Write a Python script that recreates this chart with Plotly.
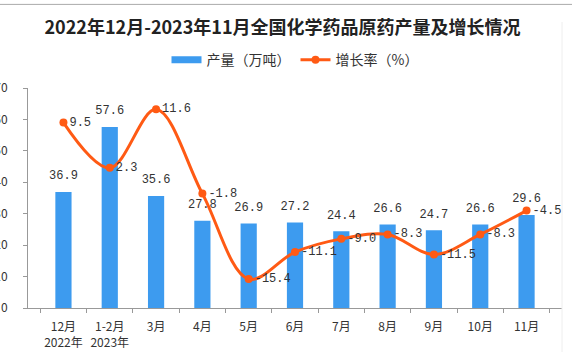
import plotly.graph_objects as go

categories = ["12月<br>2022年", "1-2月<br>2023年", "3月", "4月", "5月", "6月", "7月", "8月", "9月", "10月", "11月"]
output = [36.9, 57.6, 35.6, 27.8, 26.9, 27.2, 24.4, 26.6, 24.7, 26.6, 29.6]
growth = [9.5, 2.3, 11.6, -1.8, -15.4, -11.1, -9.0, -8.3, -11.5, -8.3, -4.5]
left_ticks = [0, 10, 20, 30, 40, 50, 60, 70]

CJK = "Noto Sans CJK SC"
MONO = "Liberation Mono"
BAR = "#3D9BEF"
LINE = "#FF5A14"

fig = go.Figure()
fig.add_trace(go.Bar(
    x=categories, y=output, name="产量（万吨）", showlegend=False,
    marker=dict(color=BAR, line=dict(width=0)), hoverinfo="x+y",
))
# value labels above the bars
fig.add_trace(go.Scatter(
    x=categories, y=output, mode="markers+text", showlegend=False,
    marker=dict(size=14, opacity=0), hoverinfo="skip",
    text=[f"{v:.1f}" for v in output], textposition="top center",
    textfont=dict(family=MONO, size=12, color="#333333"), cliponaxis=False,
))
# legend-only entry giving the bar series a wide swatch
fig.add_trace(go.Scatter(
    x=[None], y=[None], name="产量（万吨）", mode="lines",
    line=dict(color=BAR, width=7), hoverinfo="skip",
))
fig.add_trace(go.Scatter(
    x=categories, y=growth, name="增长率（%）", yaxis="y2",
    mode="lines+markers+text",
    line=dict(color=LINE, width=3, shape="spline", smoothing=1.0),
    marker=dict(color=LINE, size=8),
    text=[f"{v:.1f}" for v in growth], textposition="middle right",
    textfont=dict(family=MONO, size=12, color="#333333"),
    cliponaxis=True,
))

fig.update_layout(
    width=572, height=352,
    margin=dict(l=28, r=10, t=88, b=44, autoexpand=False),
    paper_bgcolor="white", plot_bgcolor="white",
    font=dict(family=CJK, size=12, color="#333333"),
    title=dict(text="<b>2022年12月-2023年11月全国化学药品原药产量及增长情况</b>",
               x=0.494, xanchor="center", y=0.92, yanchor="middle",
               font=dict(family=CJK, size=18, color="#222222")),
    legend=dict(orientation="h", x=0.5, xanchor="center", y=1.127, yanchor="middle",
                font=dict(family=CJK, size=14, color="#333333"),
                itemwidth=30, bgcolor="rgba(0,0,0,0)"),
    bargap=0.65,
    showlegend=True,
    xaxis=dict(showline=True, linecolor="#999999", linewidth=1, automargin=False,
               tickangle=0, ticklabelstandoff=8,
               ticks="outside", tickson="boundaries", ticklen=4, tickcolor="#999999",
               tickfont=dict(family=CJK, size=12, color="#333333"),
               showgrid=False),
    yaxis=dict(range=[0, 70], tickvals=left_ticks, showline=True, linecolor="#999999",
               linewidth=1, ticks="outside", ticklen=4, tickcolor="#999999",
               automargin=False,
               ticklabelstandoff=13, showgrid=False, zeroline=False,
               tickfont=dict(family=CJK, size=12, color="#333333")),
    yaxis2=dict(range=[-20, 15], overlaying="y", side="right", visible=False,
                automargin=False, showgrid=False, zeroline=False),
    shapes=[
        dict(type="line", xref="paper", yref="paper", x0=-0.06, x1=1.02, y0=1.38, y1=1.38,
             line=dict(color="#aaaaaa", width=1)),
        dict(type="line", xref="paper", yref="paper", x0=1.0, x1=1.0, y0=-0.2, y1=1.3,
             line=dict(color="#eeeeee", width=1)),
    ],
)

fig.write_html("out.html")
